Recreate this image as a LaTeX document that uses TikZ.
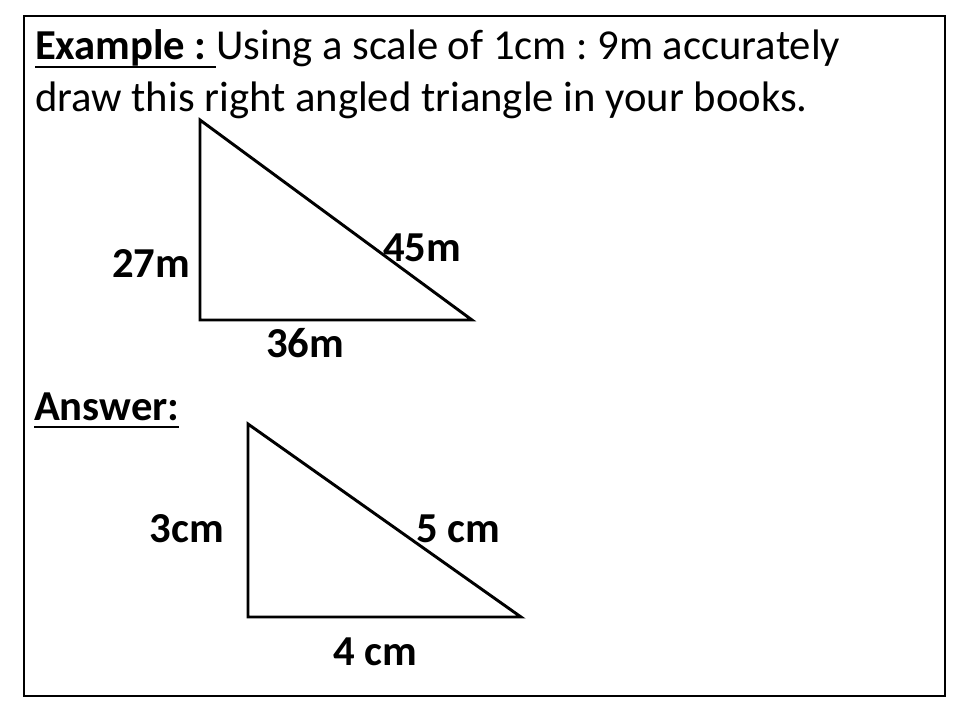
\documentclass[tikz,border=0pt]{standalone}
\usepackage{fontspec}
\setmainfont{Carlito}
\frenchspacing
\newcommand\ulx[1]{\setbox0\hbox{#1}\rlap{\rule[-6.2pt]{\wd0}{1.6pt}}\box0}
\begin{document}
\begin{tikzpicture}[x=0.75pt,y=-0.75pt,
  txt/.style={inner sep=0pt,outer sep=0pt,font=\fontsize{32pt}{38pt}\selectfont},
  lbl/.style={txt,anchor=base,font=\fontsize{32pt}{38pt}\selectfont\bfseries},
  tri/.style={line width=2.2pt,line join=miter}]
\fill[white] (0,0) rectangle (960,720);
\useasboundingbox (0,0) rectangle (960,720);
\draw[line width=0.8pt] (24,16) rectangle (945,696);
\node[txt,anchor=base west] (l1) at (35,60) {\ulx{\bfseries Example :\ }Using a scale of 1cm : 9m accurately};
\node[txt,anchor=base west] (l2) at (35,112) {draw this right angled triangle in your books.};
% question triangle
\coordinate (a1) at (200,120);
\coordinate (b1) at (200,320);
\coordinate (c1) at (472,320);
\draw[tri] (a1) -- (b1) -- (c1) -- cycle;
\node[lbl] (s27) at (151,277) {27m};
\node[lbl] (s45) at (422,262) {45m};
\node[lbl] (s36) at (305,357) {36m};
% answer
\node[txt,anchor=base west] (ans) at (34,420) {\ulx{\bfseries Answer:}};
\coordinate (a2) at (248,424);
\coordinate (b2) at (248,617);
\coordinate (c2) at (521,617);
\draw[tri] (a2) -- (b2) -- (c2) -- cycle;
\node[lbl] (s3) at (187,542) {3cm};
\node[lbl] (s5) at (458,542) {5 cm};
\node[lbl] (s4) at (375,665) {4 cm};
\end{tikzpicture}
\end{document}
